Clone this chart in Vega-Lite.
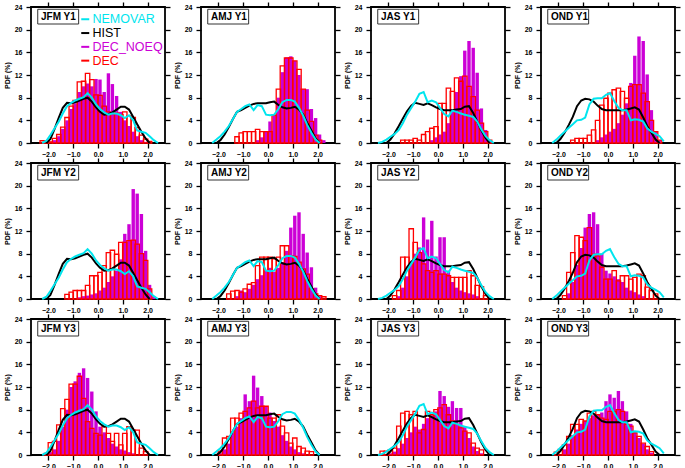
{
"$schema": "https://vega.github.io/schema/vega-lite/v6.json",
"padding": {"left": 2, "top": 0, "right": 0, "bottom": 0},
"config": {
 "font": "Liberation Sans",
 "view": {"stroke": "black", "strokeWidth": 1.8},
 "axis": {"domain": false, "grid": false, "ticks": true, "tickColor": "black", "tickWidth": 1.3, "tickSize": 5, "labelFont": "Liberation Sans", "labelFontWeight": "bold", "labelFontSize": 7, "labelColor": "black", "titleFont": "Liberation Sans", "titleFontWeight": "bold", "titleFontSize": 7, "titleColor": "black"}
},
"data": {"values": [
{"p":"JFM Y1","x":-2.25,"v":0,"d":0.4},
{"p":"JFM Y1","x":-2.08,"h":0,"v":0.4,"d":0.4},
{"p":"JFM Y1","x":-1.92,"h":0.7,"v":1.4,"d":0.2,"n":0.2},
{"p":"JFM Y1","x":-1.75,"h":2.5,"v":2.6,"d":0.8,"n":0.5},
{"p":"JFM Y1","x":-1.58,"h":4.5,"v":3.8,"d":1.5,"n":1.2},
{"p":"JFM Y1","x":-1.42,"h":6.2,"v":5.2,"d":2.8,"n":2.5},
{"p":"JFM Y1","x":-1.25,"h":7.1,"v":6.5,"d":4.5,"n":4.0},
{"p":"JFM Y1","x":-1.08,"h":7.0,"v":7.1,"d":6.5,"n":6.0},
{"p":"JFM Y1","x":-0.92,"h":7.2,"v":7.5,"d":7.5,"n":7.0},
{"p":"JFM Y1","x":-0.75,"h":7.5,"v":7.8,"d":10.8,"n":9.0},
{"p":"JFM Y1","x":-0.58,"h":7.8,"v":8.1,"d":10.9,"n":10.0},
{"p":"JFM Y1","x":-0.42,"h":8.0,"v":8.8,"d":12.3,"n":10.5},
{"p":"JFM Y1","x":-0.25,"h":7.3,"v":8.0,"d":11.2,"n":10.0},
{"p":"JFM Y1","x":-0.08,"h":6.3,"v":6.8,"d":8.5,"n":11.3},
{"p":"JFM Y1","x":0.08,"h":5.5,"v":6.0,"d":8.4,"n":11.2},
{"p":"JFM Y1","x":0.25,"h":5.0,"v":5.4,"d":6.5,"n":9.0},
{"p":"JFM Y1","x":0.42,"h":5.1,"v":5.0,"d":5.5,"n":12.3},
{"p":"JFM Y1","x":0.58,"h":5.4,"v":5.2,"d":5.2,"n":10.4},
{"p":"JFM Y1","x":0.75,"h":5.9,"v":5.2,"d":5.3,"n":8.3},
{"p":"JFM Y1","x":0.92,"h":6.4,"v":4.9,"d":5.0,"n":5.5},
{"p":"JFM Y1","x":1.08,"h":6.4,"v":4.4,"d":5.5,"n":4.0},
{"p":"JFM Y1","x":1.25,"h":5.9,"v":4.9,"d":4.8,"n":3.0},
{"p":"JFM Y1","x":1.42,"h":4.6,"v":4.0,"d":4.5,"n":2.0},
{"p":"JFM Y1","x":1.58,"h":3.3,"v":2.2,"d":2.7,"n":1.2},
{"p":"JFM Y1","x":1.75,"h":2.0,"v":2.0,"d":1.4,"n":0.5},
{"p":"JFM Y1","x":1.92,"h":0.8,"v":1.8,"d":0.7,"n":0.2},
{"p":"JFM Y1","x":2.08,"h":0,"v":1.2,"d":0.3},
{"p":"JFM Y1","x":2.25,"v":0.5},
{"p":"JFM Y1","x":2.42,"v":0},
{"p":"JFM Y2","x":-2.25,"v":0},
{"p":"JFM Y2","x":-2.08,"h":0,"v":0.4},
{"p":"JFM Y2","x":-1.92,"h":0.7,"v":1.4},
{"p":"JFM Y2","x":-1.75,"h":2.5,"v":2.6},
{"p":"JFM Y2","x":-1.58,"h":4.5,"v":3.8},
{"p":"JFM Y2","x":-1.42,"h":6.2,"v":5.2},
{"p":"JFM Y2","x":-1.25,"h":7.1,"v":6.5,"d":0.8},
{"p":"JFM Y2","x":-1.08,"h":7.0,"v":7.1,"d":1.2},
{"p":"JFM Y2","x":-0.92,"h":7.2,"v":7.5,"d":1.5},
{"p":"JFM Y2","x":-0.75,"h":7.5,"v":7.8,"d":1.5,"n":0.3},
{"p":"JFM Y2","x":-0.58,"h":7.8,"v":8.1,"d":1.5,"n":0.5},
{"p":"JFM Y2","x":-0.42,"h":8.0,"v":8.8,"d":2.4,"n":0.6},
{"p":"JFM Y2","x":-0.25,"h":7.3,"v":8.0,"d":4.1,"n":0.8},
{"p":"JFM Y2","x":-0.08,"h":6.3,"v":6.8,"d":4.1,"n":1.0},
{"p":"JFM Y2","x":0.08,"h":5.5,"v":6.0,"d":4.7,"n":1.5},
{"p":"JFM Y2","x":0.25,"h":5.0,"v":5.4,"d":5.9,"n":2.0},
{"p":"JFM Y2","x":0.42,"h":5.1,"v":5.0,"d":8.2,"n":3.0},
{"p":"JFM Y2","x":0.58,"h":5.4,"v":5.2,"d":8.6,"n":4.0},
{"p":"JFM Y2","x":0.75,"h":5.9,"v":5.2,"d":7.9,"n":5.0},
{"p":"JFM Y2","x":0.92,"h":6.4,"v":4.9,"d":10.0,"n":7.0},
{"p":"JFM Y2","x":1.08,"h":6.4,"v":4.4,"d":10.0,"n":11.5},
{"p":"JFM Y2","x":1.25,"h":5.9,"v":4.9,"d":10.3,"n":13.2},
{"p":"JFM Y2","x":1.42,"h":4.6,"v":4.0,"d":10.4,"n":19.4},
{"p":"JFM Y2","x":1.58,"h":3.3,"v":2.2,"d":9.7,"n":18.6},
{"p":"JFM Y2","x":1.75,"h":2.0,"v":2.0,"d":8.0,"n":15.0},
{"p":"JFM Y2","x":1.92,"h":0.8,"v":1.8,"d":6.8,"n":8.5},
{"p":"JFM Y2","x":2.08,"h":0,"v":1.2,"d":1.8,"n":2.5},
{"p":"JFM Y2","x":2.25,"v":0.5,"n":0.5},
{"p":"JFM Y2","x":2.42,"v":0},
{"p":"JFM Y3","x":-2.25,"v":0},
{"p":"JFM Y3","x":-2.08,"h":0,"v":0.4,"d":0.3},
{"p":"JFM Y3","x":-1.92,"h":0.7,"v":1.4,"d":2.2,"n":0.5},
{"p":"JFM Y3","x":-1.75,"h":2.5,"v":2.6,"d":2.4,"n":1.0},
{"p":"JFM Y3","x":-1.58,"h":4.5,"v":3.8,"d":5.3,"n":2.5},
{"p":"JFM Y3","x":-1.42,"h":6.2,"v":5.2,"d":8.2,"n":5.0},
{"p":"JFM Y3","x":-1.25,"h":7.1,"v":6.5,"d":9.8,"n":8.0},
{"p":"JFM Y3","x":-1.08,"h":7.0,"v":7.1,"d":12.5,"n":12.0},
{"p":"JFM Y3","x":-0.92,"h":7.2,"v":7.5,"d":12.5,"n":13.0},
{"p":"JFM Y3","x":-0.75,"h":7.5,"v":7.8,"d":13.9,"n":14.5},
{"p":"JFM Y3","x":-0.58,"h":7.8,"v":8.1,"d":10.0,"n":15.3},
{"p":"JFM Y3","x":-0.42,"h":8.0,"v":8.8,"d":5.9,"n":13.6},
{"p":"JFM Y3","x":-0.25,"h":7.3,"v":8.0,"d":4.7,"n":11.2},
{"p":"JFM Y3","x":-0.08,"h":6.3,"v":6.8,"d":3.8,"n":7.7},
{"p":"JFM Y3","x":0.08,"h":5.5,"v":6.0,"d":3.5,"n":5.0},
{"p":"JFM Y3","x":0.25,"h":5.0,"v":5.4,"d":5.0,"n":4.0},
{"p":"JFM Y3","x":0.42,"h":5.1,"v":5.0,"d":3.8,"n":3.0},
{"p":"JFM Y3","x":0.58,"h":5.4,"v":5.2,"d":2.4,"n":2.0},
{"p":"JFM Y3","x":0.75,"h":5.9,"v":5.2,"d":3.8,"n":1.5},
{"p":"JFM Y3","x":0.92,"h":6.4,"v":4.9,"d":1.8,"n":1.0},
{"p":"JFM Y3","x":1.08,"h":6.4,"v":4.4,"d":3.8,"n":0.8},
{"p":"JFM Y3","x":1.25,"h":5.9,"v":4.9,"d":5.0,"n":0.5},
{"p":"JFM Y3","x":1.42,"h":4.6,"v":4.0,"d":4.4,"n":0.3},
{"p":"JFM Y3","x":1.58,"h":3.3,"v":2.2,"d":4.4},
{"p":"JFM Y3","x":1.75,"h":2.0,"v":2.0,"d":1.2},
{"p":"JFM Y3","x":1.92,"h":0.8,"v":1.8,"d":0.6},
{"p":"JFM Y3","x":2.08,"h":0,"v":1.2},
{"p":"JFM Y3","x":2.25,"v":0.5},
{"p":"JFM Y3","x":2.42,"v":0},
{"p":"AMJ Y1","x":-2.25,"v":0},
{"p":"AMJ Y1","x":-2.08,"h":0,"v":0.6},
{"p":"AMJ Y1","x":-1.92,"h":0.5,"v":1.2},
{"p":"AMJ Y1","x":-1.75,"h":1.5,"v":2.0},
{"p":"AMJ Y1","x":-1.58,"h":2.8,"v":3.0},
{"p":"AMJ Y1","x":-1.42,"h":4.2,"v":4.2},
{"p":"AMJ Y1","x":-1.25,"h":5.5,"v":5.5,"d":1.1},
{"p":"AMJ Y1","x":-1.08,"h":5.8,"v":6.0,"d":1.8},
{"p":"AMJ Y1","x":-0.92,"h":6.2,"v":6.5,"d":2.0},
{"p":"AMJ Y1","x":-0.75,"h":6.6,"v":6.8,"d":2.0},
{"p":"AMJ Y1","x":-0.58,"h":6.9,"v":5.8,"d":2.0},
{"p":"AMJ Y1","x":-0.42,"h":7.0,"v":6.7,"d":2.4,"n":0.5},
{"p":"AMJ Y1","x":-0.25,"h":7.0,"v":6.5,"d":2.0,"n":1.0},
{"p":"AMJ Y1","x":-0.08,"h":7.0,"v":5.0,"d":2.0,"n":2.0},
{"p":"AMJ Y1","x":0.08,"h":7.2,"v":4.9,"d":2.0,"n":3.8},
{"p":"AMJ Y1","x":0.25,"h":7.3,"v":5.0,"d":4.9,"n":5.0},
{"p":"AMJ Y1","x":0.42,"h":6.7,"v":6.0,"d":9.5,"n":8.0},
{"p":"AMJ Y1","x":0.58,"h":6.3,"v":7.2,"d":13.6,"n":12.5},
{"p":"AMJ Y1","x":0.75,"h":6.1,"v":7.6,"d":15.0,"n":15.1},
{"p":"AMJ Y1","x":0.92,"h":6.2,"v":7.6,"d":15.0,"n":15.3},
{"p":"AMJ Y1","x":1.08,"h":6.4,"v":7.3,"d":14.5,"n":14.5},
{"p":"AMJ Y1","x":1.25,"h":5.9,"v":6.2,"d":13.0,"n":12.0},
{"p":"AMJ Y1","x":1.42,"h":5.0,"v":4.8,"d":9.5,"n":9.5},
{"p":"AMJ Y1","x":1.58,"h":3.6,"v":3.2,"d":5.8,"n":9.5},
{"p":"AMJ Y1","x":1.75,"h":2.2,"v":1.8,"d":3.8,"n":6.0},
{"p":"AMJ Y1","x":1.92,"h":0.8,"v":0.6,"d":1.4,"n":4.4},
{"p":"AMJ Y1","x":2.08,"h":0,"v":0,"d":0.5,"n":1.5},
{"p":"AMJ Y1","x":2.25,"n":0.5},
{"p":"AMJ Y2","x":-2.25,"v":0},
{"p":"AMJ Y2","x":-2.08,"h":0,"v":0.6},
{"p":"AMJ Y2","x":-1.92,"h":0.5,"v":1.2},
{"p":"AMJ Y2","x":-1.75,"h":1.5,"v":2.0},
{"p":"AMJ Y2","x":-1.58,"h":2.8,"v":3.0,"d":0.9},
{"p":"AMJ Y2","x":-1.42,"h":4.2,"v":4.2,"d":1.4},
{"p":"AMJ Y2","x":-1.25,"h":5.5,"v":5.5,"d":1.5,"n":0.5},
{"p":"AMJ Y2","x":-1.08,"h":5.8,"v":6.0,"d":1.2,"n":1.5},
{"p":"AMJ Y2","x":-0.92,"h":6.2,"v":6.5,"d":1.8,"n":1.2},
{"p":"AMJ Y2","x":-0.75,"h":6.6,"v":6.8,"d":2.6,"n":1.8},
{"p":"AMJ Y2","x":-0.58,"h":6.9,"v":5.8,"d":2.9,"n":2.5},
{"p":"AMJ Y2","x":-0.42,"h":7.0,"v":6.7,"d":5.9,"n":3.5},
{"p":"AMJ Y2","x":-0.25,"h":7.0,"v":6.5,"d":7.4,"n":4.2},
{"p":"AMJ Y2","x":-0.08,"h":7.0,"v":5.0,"d":7.4,"n":5.0},
{"p":"AMJ Y2","x":0.08,"h":7.2,"v":4.9,"d":7.4,"n":5.5},
{"p":"AMJ Y2","x":0.25,"h":7.3,"v":5.0,"d":7.1,"n":4.8},
{"p":"AMJ Y2","x":0.42,"h":6.7,"v":6.0,"d":7.4,"n":5.5},
{"p":"AMJ Y2","x":0.58,"h":6.3,"v":7.2,"d":9.4,"n":6.5},
{"p":"AMJ Y2","x":0.75,"h":6.1,"v":7.6,"d":9.4,"n":8.5},
{"p":"AMJ Y2","x":0.92,"h":6.2,"v":7.6,"d":7.6,"n":12.6},
{"p":"AMJ Y2","x":1.08,"h":6.4,"v":7.3,"d":7.5,"n":14.7},
{"p":"AMJ Y2","x":1.25,"h":5.9,"v":6.2,"d":6.5,"n":15.3},
{"p":"AMJ Y2","x":1.42,"h":5.0,"v":4.8,"d":5.3,"n":11.5},
{"p":"AMJ Y2","x":1.58,"h":3.6,"v":3.2,"d":4.4,"n":8.2},
{"p":"AMJ Y2","x":1.75,"h":2.2,"v":1.8,"d":1.8,"n":5.6},
{"p":"AMJ Y2","x":1.92,"h":0.8,"v":0.6,"d":0.9,"n":2.0},
{"p":"AMJ Y2","x":2.08,"h":0,"v":0,"d":0.6,"n":0.5},
{"p":"AMJ Y2","x":2.25,"d":0.4},
{"p":"AMJ Y3","x":-2.25,"v":0},
{"p":"AMJ Y3","x":-2.08,"h":0,"v":0.6},
{"p":"AMJ Y3","x":-1.92,"h":0.5,"v":1.2,"d":0.7,"n":0.3},
{"p":"AMJ Y3","x":-1.75,"h":1.5,"v":2.0,"d":3.0,"n":1.0},
{"p":"AMJ Y3","x":-1.58,"h":2.8,"v":3.0,"d":3.3,"n":2.0},
{"p":"AMJ Y3","x":-1.42,"h":4.2,"v":4.2,"d":6.5,"n":4.0},
{"p":"AMJ Y3","x":-1.25,"h":5.5,"v":5.5,"d":6.5,"n":5.0},
{"p":"AMJ Y3","x":-1.08,"h":5.8,"v":6.0,"d":7.4,"n":6.5},
{"p":"AMJ Y3","x":-0.92,"h":6.2,"v":6.5,"d":7.7,"n":10.7},
{"p":"AMJ Y3","x":-0.75,"h":6.6,"v":6.8,"d":8.3,"n":9.5},
{"p":"AMJ Y3","x":-0.58,"h":6.9,"v":5.8,"d":9.5,"n":14.0},
{"p":"AMJ Y3","x":-0.42,"h":7.0,"v":6.7,"d":8.3,"n":11.9},
{"p":"AMJ Y3","x":-0.25,"h":7.0,"v":6.5,"d":8.6,"n":10.4},
{"p":"AMJ Y3","x":-0.08,"h":7.0,"v":5.0,"d":8.6,"n":8.6},
{"p":"AMJ Y3","x":0.08,"h":7.2,"v":4.9,"d":6.5,"n":7.5},
{"p":"AMJ Y3","x":0.25,"h":7.3,"v":5.0,"d":6.5,"n":6.0},
{"p":"AMJ Y3","x":0.42,"h":6.7,"v":6.0,"d":7.1,"n":5.0},
{"p":"AMJ Y3","x":0.58,"h":6.3,"v":7.2,"d":5.1,"n":3.5},
{"p":"AMJ Y3","x":0.75,"h":6.1,"v":7.6,"d":3.9,"n":2.5},
{"p":"AMJ Y3","x":0.92,"h":6.2,"v":7.6,"d":2.1,"n":1.5},
{"p":"AMJ Y3","x":1.08,"h":6.4,"v":7.3,"d":3.0,"n":1.0},
{"p":"AMJ Y3","x":1.25,"h":5.9,"v":6.2,"d":1.5,"n":0.5},
{"p":"AMJ Y3","x":1.42,"h":5.0,"v":4.8,"d":1.2,"n":0.3},
{"p":"AMJ Y3","x":1.58,"h":3.6,"v":3.2,"d":0.7},
{"p":"AMJ Y3","x":1.75,"h":2.2,"v":1.8,"d":0.6},
{"p":"AMJ Y3","x":1.92,"h":0.8,"v":0.6},
{"p":"AMJ Y3","x":2.08,"h":0,"v":0},
{"p":"JAS Y1","x":-2.42,"v":0},
{"p":"JAS Y1","x":-2.25,"v":0.2},
{"p":"JAS Y1","x":-2.08,"h":0,"v":0.6},
{"p":"JAS Y1","x":-1.92,"h":0.6,"v":1.1},
{"p":"JAS Y1","x":-1.75,"h":1.7,"v":1.6},
{"p":"JAS Y1","x":-1.58,"h":3.0,"v":2.3},
{"p":"JAS Y1","x":-1.42,"h":4.3,"v":3.5,"d":0.5},
{"p":"JAS Y1","x":-1.25,"h":5.6,"v":5.0,"d":0.5},
{"p":"JAS Y1","x":-1.08,"h":6.6,"v":6.2,"d":0.5},
{"p":"JAS Y1","x":-0.92,"h":7.1,"v":7.3,"d":0.8},
{"p":"JAS Y1","x":-0.75,"h":6.9,"v":8.7,"d":0.5},
{"p":"JAS Y1","x":-0.58,"h":6.7,"v":9.0,"d":1.5},
{"p":"JAS Y1","x":-0.42,"h":7.0,"v":7.2,"d":2.0},
{"p":"JAS Y1","x":-0.25,"h":6.7,"v":7.5,"d":2.6,"n":0.5},
{"p":"JAS Y1","x":-0.08,"h":6.3,"v":7.2,"d":2.9,"n":1.0},
{"p":"JAS Y1","x":0.08,"h":6.0,"v":6.2,"d":7.0,"n":1.5},
{"p":"JAS Y1","x":0.25,"h":5.8,"v":5.1,"d":7.0,"n":2.0},
{"p":"JAS Y1","x":0.42,"h":5.8,"v":4.7,"d":9.7,"n":3.5},
{"p":"JAS Y1","x":0.58,"h":5.8,"v":5.7,"d":9.1,"n":6.0},
{"p":"JAS Y1","x":0.75,"h":5.9,"v":5.5,"d":11.5,"n":9.0},
{"p":"JAS Y1","x":0.92,"h":6.0,"v":5.2,"d":10.9,"n":11.8},
{"p":"JAS Y1","x":1.08,"h":6.4,"v":5.0,"d":11.8,"n":16.3},
{"p":"JAS Y1","x":1.25,"h":6.5,"v":4.8,"d":10.0,"n":18.0},
{"p":"JAS Y1","x":1.42,"h":5.3,"v":4.6,"d":8.2,"n":16.8},
{"p":"JAS Y1","x":1.58,"h":3.8,"v":3.8,"d":5.8,"n":12.4},
{"p":"JAS Y1","x":1.75,"h":2.2,"v":2.4,"d":3.5,"n":6.1},
{"p":"JAS Y1","x":1.92,"h":0.9,"v":1.2,"d":2.0,"n":2.3},
{"p":"JAS Y1","x":2.08,"h":0,"v":0.5,"d":0.5,"n":0.5},
{"p":"JAS Y1","x":2.25,"v":0},
{"p":"JAS Y2","x":-2.42,"v":0},
{"p":"JAS Y2","x":-2.25,"v":0.2},
{"p":"JAS Y2","x":-2.08,"h":0,"v":0.6},
{"p":"JAS Y2","x":-1.92,"h":0.6,"v":1.1},
{"p":"JAS Y2","x":-1.75,"h":1.7,"v":1.6,"d":0.6},
{"p":"JAS Y2","x":-1.58,"h":3.0,"v":2.3,"d":1.5,"n":0.5},
{"p":"JAS Y2","x":-1.42,"h":4.3,"v":3.5,"d":7.4,"n":2.0},
{"p":"JAS Y2","x":-1.25,"h":5.6,"v":5.0,"d":7.4,"n":4.0},
{"p":"JAS Y2","x":-1.08,"h":6.6,"v":6.2,"d":12.4,"n":6.5},
{"p":"JAS Y2","x":-0.92,"h":7.1,"v":7.3,"d":10.0,"n":8.0},
{"p":"JAS Y2","x":-0.75,"h":6.9,"v":8.7,"d":8.2,"n":9.1},
{"p":"JAS Y2","x":-0.58,"h":6.7,"v":9.0,"d":6.2,"n":14.4},
{"p":"JAS Y2","x":-0.42,"h":7.0,"v":7.2,"d":5.0,"n":10.5},
{"p":"JAS Y2","x":-0.25,"h":6.7,"v":7.5,"d":4.7,"n":13.8},
{"p":"JAS Y2","x":-0.08,"h":6.3,"v":7.2,"d":5.0,"n":7.5},
{"p":"JAS Y2","x":0.08,"h":6.0,"v":6.2,"d":4.4,"n":10.9},
{"p":"JAS Y2","x":0.25,"h":5.8,"v":5.1,"d":4.4,"n":10.9},
{"p":"JAS Y2","x":0.42,"h":5.8,"v":4.7,"d":4.1,"n":5.0},
{"p":"JAS Y2","x":0.58,"h":5.8,"v":5.7,"d":3.8,"n":3.0},
{"p":"JAS Y2","x":0.75,"h":5.9,"v":5.5,"d":3.8,"n":2.0},
{"p":"JAS Y2","x":0.92,"h":6.0,"v":5.2,"d":3.8,"n":1.5},
{"p":"JAS Y2","x":1.08,"h":6.4,"v":5.0,"d":3.8,"n":1.2},
{"p":"JAS Y2","x":1.25,"h":6.5,"v":4.8,"d":5.0,"n":1.0},
{"p":"JAS Y2","x":1.42,"h":5.3,"v":4.6,"d":4.1,"n":0.8},
{"p":"JAS Y2","x":1.58,"h":3.8,"v":3.8,"d":2.4,"n":0.5},
{"p":"JAS Y2","x":1.75,"h":2.2,"v":2.4,"d":2.2},
{"p":"JAS Y2","x":1.92,"h":0.9,"v":1.2,"d":0.6},
{"p":"JAS Y2","x":2.08,"h":0,"v":0.5},
{"p":"JAS Y2","x":2.25,"v":0},
{"p":"JAS Y3","x":-2.42,"v":0},
{"p":"JAS Y3","x":-2.25,"v":0.2,"d":0.7},
{"p":"JAS Y3","x":-2.08,"h":0,"v":0.6,"d":0.7},
{"p":"JAS Y3","x":-1.92,"h":0.6,"v":1.1,"d":0.9,"n":0.3},
{"p":"JAS Y3","x":-1.75,"h":1.7,"v":1.6,"d":1.2,"n":0.6},
{"p":"JAS Y3","x":-1.58,"h":3.0,"v":2.3,"d":5.1,"n":1.2},
{"p":"JAS Y3","x":-1.42,"h":4.3,"v":3.5,"d":7.4,"n":2.0},
{"p":"JAS Y3","x":-1.25,"h":5.6,"v":5.0,"d":7.7,"n":3.0},
{"p":"JAS Y3","x":-1.08,"h":6.6,"v":6.2,"d":7.1,"n":4.0},
{"p":"JAS Y3","x":-0.92,"h":7.1,"v":7.3,"d":7.7,"n":5.0},
{"p":"JAS Y3","x":-0.75,"h":6.9,"v":8.7,"d":3.9,"n":4.5},
{"p":"JAS Y3","x":-0.58,"h":6.7,"v":9.0,"d":4.5,"n":5.5},
{"p":"JAS Y3","x":-0.42,"h":7.0,"v":7.2,"d":7.7,"n":6.5},
{"p":"JAS Y3","x":-0.25,"h":6.7,"v":7.5,"d":7.1,"n":7.0},
{"p":"JAS Y3","x":-0.08,"h":6.3,"v":7.2,"d":8.0,"n":7.7},
{"p":"JAS Y3","x":0.08,"h":6.0,"v":6.2,"d":8.3,"n":11.3},
{"p":"JAS Y3","x":0.25,"h":5.8,"v":5.1,"d":8.9,"n":10.4},
{"p":"JAS Y3","x":0.42,"h":5.8,"v":4.7,"d":7.1,"n":8.5},
{"p":"JAS Y3","x":0.58,"h":5.8,"v":5.7,"d":6.0,"n":9.5},
{"p":"JAS Y3","x":0.75,"h":5.9,"v":5.5,"d":5.4,"n":8.3},
{"p":"JAS Y3","x":0.92,"h":6.0,"v":5.2,"d":4.8,"n":8.3},
{"p":"JAS Y3","x":1.08,"h":6.4,"v":5.0,"d":4.2,"n":5.0},
{"p":"JAS Y3","x":1.25,"h":6.5,"v":4.8,"d":3.9,"n":3.0},
{"p":"JAS Y3","x":1.42,"h":5.3,"v":4.6,"d":2.1,"n":1.5},
{"p":"JAS Y3","x":1.58,"h":3.8,"v":3.8,"d":1.2,"n":0.7},
{"p":"JAS Y3","x":1.75,"h":2.2,"v":2.4,"d":0.9,"n":0.3},
{"p":"JAS Y3","x":1.92,"h":0.9,"v":1.2},
{"p":"JAS Y3","x":2.08,"h":0,"v":0.5},
{"p":"JAS Y3","x":2.25,"v":0},
{"p":"OND Y1","x":-2.25,"v":0},
{"p":"OND Y1","x":-2.08,"h":0,"v":0.6},
{"p":"OND Y1","x":-1.92,"h":0.7,"v":1.3},
{"p":"OND Y1","x":-1.75,"h":1.8,"v":2.0},
{"p":"OND Y1","x":-1.58,"h":3.2,"v":2.7},
{"p":"OND Y1","x":-1.42,"h":4.6,"v":3.3,"d":0.5},
{"p":"OND Y1","x":-1.25,"h":6.5,"v":4.0,"d":0.8},
{"p":"OND Y1","x":-1.08,"h":7.5,"v":4.1,"d":0.8},
{"p":"OND Y1","x":-0.92,"h":7.8,"v":4.5,"d":0.8},
{"p":"OND Y1","x":-0.75,"h":7.7,"v":6.8,"d":1.4},
{"p":"OND Y1","x":-0.58,"h":7.3,"v":7.8,"d":2.3},
{"p":"OND Y1","x":-0.42,"h":6.6,"v":7.9,"d":4.0,"n":0.5},
{"p":"OND Y1","x":-0.25,"h":6.0,"v":7.9,"d":6.7,"n":1.0},
{"p":"OND Y1","x":-0.08,"h":5.8,"v":8.5,"d":7.9,"n":1.5},
{"p":"OND Y1","x":0.08,"h":5.8,"v":8.8,"d":8.8,"n":2.0},
{"p":"OND Y1","x":0.25,"h":5.8,"v":7.4,"d":9.4,"n":2.5},
{"p":"OND Y1","x":0.42,"h":5.8,"v":6.2,"d":9.7,"n":3.5},
{"p":"OND Y1","x":0.58,"h":5.8,"v":5.8,"d":9.1,"n":5.0},
{"p":"OND Y1","x":0.75,"h":5.9,"v":5.8,"d":7.9,"n":7.0},
{"p":"OND Y1","x":0.92,"h":6.1,"v":4.0,"d":10.0,"n":10.6},
{"p":"OND Y1","x":1.08,"h":6.3,"v":4.2,"d":10.3,"n":15.4},
{"p":"OND Y1","x":1.25,"h":5.9,"v":4.1,"d":10.3,"n":18.8},
{"p":"OND Y1","x":1.42,"h":4.5,"v":3.8,"d":8.8,"n":18.0},
{"p":"OND Y1","x":1.58,"h":3.0,"v":2.6,"d":7.3,"n":12.1},
{"p":"OND Y1","x":1.75,"h":1.8,"v":2.0,"d":4.0,"n":5.8},
{"p":"OND Y1","x":1.92,"h":0.6,"v":1.6,"d":2.0,"n":2.0},
{"p":"OND Y1","x":2.08,"h":0,"v":1.2,"d":0.5,"n":0.5},
{"p":"OND Y1","x":2.25,"v":0.3},
{"p":"OND Y2","x":-2.25,"v":0},
{"p":"OND Y2","x":-2.08,"h":0,"v":0.6},
{"p":"OND Y2","x":-1.92,"h":0.7,"v":1.3},
{"p":"OND Y2","x":-1.75,"h":1.8,"v":2.0,"d":0.6},
{"p":"OND Y2","x":-1.58,"h":3.2,"v":2.7,"d":4.7,"n":1.0},
{"p":"OND Y2","x":-1.42,"h":4.6,"v":3.3,"d":8.2,"n":3.0},
{"p":"OND Y2","x":-1.25,"h":6.5,"v":4.0,"d":11.2,"n":6.0},
{"p":"OND Y2","x":-1.08,"h":7.5,"v":4.1,"d":10.9,"n":9.0},
{"p":"OND Y2","x":-0.92,"h":7.8,"v":4.5,"d":10.3,"n":12.6},
{"p":"OND Y2","x":-0.75,"h":7.7,"v":6.8,"d":12.6,"n":15.0},
{"p":"OND Y2","x":-0.58,"h":7.3,"v":7.8,"d":7.9,"n":15.3},
{"p":"OND Y2","x":-0.42,"h":6.6,"v":7.9,"d":7.6,"n":13.2},
{"p":"OND Y2","x":-0.25,"h":6.0,"v":7.9,"d":5.6,"n":8.0},
{"p":"OND Y2","x":-0.08,"h":5.8,"v":8.5,"d":3.5,"n":5.0},
{"p":"OND Y2","x":0.08,"h":5.8,"v":8.8,"d":3.5,"n":4.5},
{"p":"OND Y2","x":0.25,"h":5.8,"v":7.4,"d":5.0,"n":4.0},
{"p":"OND Y2","x":0.42,"h":5.8,"v":6.2,"d":3.2,"n":3.5},
{"p":"OND Y2","x":0.58,"h":5.8,"v":5.8,"d":4.1,"n":3.0},
{"p":"OND Y2","x":0.75,"h":5.9,"v":5.8,"d":4.1,"n":2.0},
{"p":"OND Y2","x":0.92,"h":6.1,"v":4.0,"d":3.5,"n":1.5},
{"p":"OND Y2","x":1.08,"h":6.3,"v":4.2,"d":3.8,"n":1.2},
{"p":"OND Y2","x":1.25,"h":5.9,"v":4.1,"d":4.4,"n":0.8},
{"p":"OND Y2","x":1.42,"h":4.5,"v":3.8,"d":4.1,"n":0.5},
{"p":"OND Y2","x":1.58,"h":3.0,"v":2.6,"d":2.1},
{"p":"OND Y2","x":1.75,"h":1.8,"v":2.0,"d":1.5},
{"p":"OND Y2","x":1.92,"h":0.6,"v":1.6,"d":0.9},
{"p":"OND Y2","x":2.08,"h":0,"v":1.2},
{"p":"OND Y2","x":2.25,"v":0.3},
{"p":"OND Y3","x":-2.25,"v":0},
{"p":"OND Y3","x":-2.08,"h":0,"v":0.6,"d":0.5},
{"p":"OND Y3","x":-1.92,"h":0.7,"v":1.3,"d":1.0},
{"p":"OND Y3","x":-1.75,"h":1.8,"v":2.0,"d":1.8,"n":1.0},
{"p":"OND Y3","x":-1.58,"h":3.2,"v":2.7,"d":3.3,"n":2.0},
{"p":"OND Y3","x":-1.42,"h":4.6,"v":3.3,"d":5.4,"n":3.5},
{"p":"OND Y3","x":-1.25,"h":6.5,"v":4.0,"d":5.4,"n":4.5},
{"p":"OND Y3","x":-1.08,"h":7.5,"v":4.1,"d":6.3,"n":5.5},
{"p":"OND Y3","x":-0.92,"h":7.8,"v":4.5,"d":6.0,"n":6.0},
{"p":"OND Y3","x":-0.75,"h":7.7,"v":6.8,"d":7.4,"n":6.5},
{"p":"OND Y3","x":-0.58,"h":7.3,"v":7.8,"d":7.7,"n":7.0},
{"p":"OND Y3","x":-0.42,"h":6.6,"v":7.9,"d":7.1,"n":7.2},
{"p":"OND Y3","x":-0.25,"h":6.0,"v":7.9,"d":6.5,"n":7.5},
{"p":"OND Y3","x":-0.08,"h":5.8,"v":8.5,"d":6.3,"n":9.5},
{"p":"OND Y3","x":0.08,"h":5.8,"v":8.8,"d":7.7,"n":10.7},
{"p":"OND Y3","x":0.25,"h":5.8,"v":7.4,"d":7.7,"n":10.1},
{"p":"OND Y3","x":0.42,"h":5.8,"v":6.2,"d":8.0,"n":11.3},
{"p":"OND Y3","x":0.58,"h":5.8,"v":5.8,"d":7.7,"n":9.5},
{"p":"OND Y3","x":0.75,"h":5.9,"v":5.8,"d":5.4,"n":7.7},
{"p":"OND Y3","x":0.92,"h":6.1,"v":4.0,"d":5.1,"n":5.5},
{"p":"OND Y3","x":1.08,"h":6.3,"v":4.2,"d":3.9,"n":4.0},
{"p":"OND Y3","x":1.25,"h":5.9,"v":4.1,"d":3.3,"n":3.0},
{"p":"OND Y3","x":1.42,"h":4.5,"v":3.8,"d":2.1,"n":2.0},
{"p":"OND Y3","x":1.58,"h":3.0,"v":2.6,"d":1.5,"n":1.0},
{"p":"OND Y3","x":1.75,"h":1.8,"v":2.0,"d":0.6,"n":0.4},
{"p":"OND Y3","x":1.92,"h":0.6,"v":1.6},
{"p":"OND Y3","x":2.08,"h":0,"v":1.2},
{"p":"OND Y3","x":2.25,"v":0.3}
]},
"transform": [
 {"calculate": "substring(datum.p, 0, 3)", "as": "season"},
 {"calculate": "substring(datum.p, 4)", "as": "year"}
],
"facet": {
 "row": {"field": "year", "type": "nominal", "sort": ["Y1", "Y2", "Y3"], "header": {"labels": false, "title": null}},
 "column": {"field": "season", "type": "nominal", "sort": ["JFM", "AMJ", "JAS", "OND"], "header": {"labels": false, "title": null}}
},
"spacing": {"row": 20, "column": 36},
"bounds": "flush",
"resolve": {"axis": {"x": "independent", "y": "independent"}},
"spec": {
 "width": 134,
 "height": 136,
 "resolve": {"axis": {"x": "independent", "y": "independent"}},
 "layer": [
  {"mark": {"type": "bar", "width": 3.4},
   "encoding": {
    "x": {"field": "x", "type": "quantitative", "scale": {"domain": [-2.5, 2.5], "nice": false, "zero": false}, "axis": {"orient": "bottom", "values": [-2, -1, 0, 1, 2], "format": ".1f", "labelPadding": 2, "title": null}},
    "y": {"field": "n", "type": "quantitative", "scale": {"domain": [0, 24], "nice": false}, "axis": {"orient": "left", "values": [0, 4, 8, 12, 16, 20, 24], "labelPadding": 4, "title": "PDF (%)", "titlePadding": 4}},
    "color": {"datum": "DEC_NOEQ", "scale": {"domain": ["NEMOVAR", "HIST", "DEC_NOEQ", "DEC"], "range": ["#00e5ee", "#000000", "#cc00d6", "#ff0000"]},
     "legend": {"orient": "none", "legendX": 48, "legendY": 6, "title": null, "symbolType": "stroke", "symbolSize": 64, "symbolStrokeWidth": 2, "labelFontSize": 12.5, "labelFont": "Liberation Sans", "labelFontWeight": "normal", "labelOffset": 1, "rowPadding": 0.8, "padding": 0,
      "encode": {"symbols": {"update": {"stroke": {"scale": "color", "field": "value"}, "strokeWidth": {"value": 2}, "shape": {"value": "stroke"}, "fill": {"value": "transparent"}}}, "labels": {"update": {"fill": {"scale": "color", "field": "value"}}}}}}
   }},
  {"mark": {"type": "bar", "width": 4.4, "filled": false, "strokeWidth": 1.3},
   "encoding": {
    "x": {"field": "x", "type": "quantitative", "scale": {"domain": [-2.5, 2.5], "nice": false, "zero": false}, "axis": {"orient": "top", "values": [-2, -1, 0, 1, 2], "labels": false, "title": null}},
    "y": {"field": "d", "type": "quantitative", "scale": {"domain": [0, 24], "nice": false}, "axis": {"orient": "right", "values": [0, 4, 8, 12, 16, 20, 24], "labels": false, "title": null}},
    "color": {"datum": "DEC"}
   }},
  {"mark": {"type": "line", "strokeWidth": 2},
   "encoding": {
    "x": {"field": "x", "type": "quantitative", "scale": {"domain": [-2.5, 2.5], "nice": false, "zero": false}, "axis": null},
    "y": {"field": "h", "type": "quantitative", "scale": {"domain": [0, 24], "nice": false}, "axis": null},
    "color": {"datum": "HIST"}
   }},
  {"mark": {"type": "line", "strokeWidth": 2},
   "encoding": {
    "x": {"field": "x", "type": "quantitative", "scale": {"domain": [-2.5, 2.5], "nice": false, "zero": false}, "axis": null},
    "y": {"field": "v", "type": "quantitative", "scale": {"domain": [0, 24], "nice": false}, "axis": null},
    "color": {"datum": "NEMOVAR"}
   }},
  {"transform": [{"aggregate": [{"op": "count", "as": "c"}], "groupby": ["p"]}],
   "mark": {"type": "rect", "fill": "white", "stroke": "#333333", "strokeWidth": 1},
   "encoding": {
    "x": {"datum": -2.43, "type": "quantitative", "axis": null},
    "x2": {"datum": -0.78},
    "y": {"datum": 23.6, "type": "quantitative", "axis": null},
    "y2": {"datum": 21.0}
   }},
  {"transform": [{"aggregate": [{"op": "count", "as": "c"}], "groupby": ["p"]}],
   "mark": {"type": "text", "align": "left", "baseline": "middle", "fontSize": 10, "fontWeight": "bold", "color": "black"},
   "encoding": {
    "x": {"datum": -2.3, "type": "quantitative", "axis": null},
    "y": {"datum": 22.3, "type": "quantitative", "axis": null},
    "text": {"field": "p", "type": "nominal"}
   }}
 ]
}
}
